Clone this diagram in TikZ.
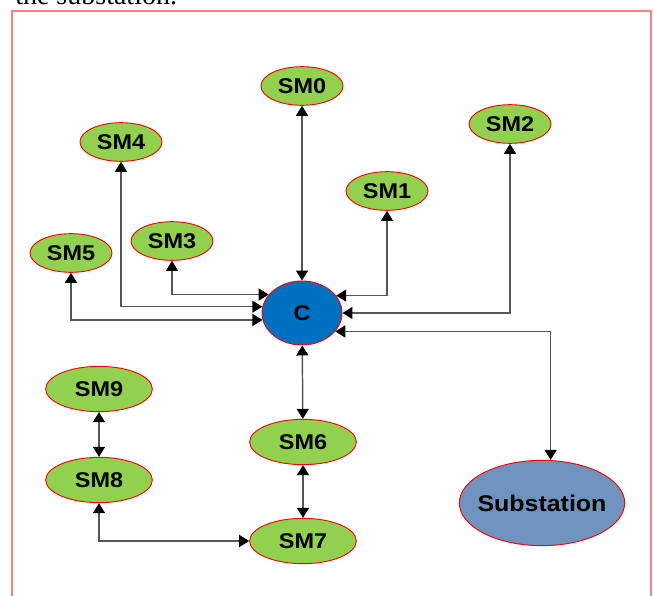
\documentclass[tikz,border=0pt]{standalone}
\usepackage{fontspec}
\setmainfont{Liberation Serif}
\newfontfamily\labelfont{Liberation Sans}[FakeStretch=1.1]
\usetikzlibrary{shapes.geometric,arrows.meta}
\definecolor{meterfill}{RGB}{146,208,80}
\definecolor{hubfill}{RGB}{0,112,192}
\definecolor{stationfill}{RGB}{112,146,190}
\definecolor{framered}{RGB}{255,128,128}
\definecolor{linkgray}{RGB}{85,85,85}

\begin{document}
\begin{tikzpicture}[x=0.75pt, y=-0.75pt,
        meter/.style={ellipse, draw=red, line width=0.7pt, fill=meterfill, inner sep=0pt, minimum width=61.5pt, minimum height=29pt, font=\labelfont\bfseries\fontsize{16}{18}\selectfont},
        bigmeter/.style={meter, minimum width=80pt, minimum height=34pt},
        hub/.style={meter, fill=hubfill, minimum width=60pt, minimum height=48pt},
        station/.style={meter, fill=stationfill, inner xsep=-5pt, minimum width=124pt, minimum height=64pt, font=\labelfont\bfseries\fontsize{17}{20}\selectfont},
        link/.style={draw=linkgray, line width=1.1pt, >={Triangle[length=7.5pt,width=9pt,color=black]}, <->}
    ]
        \path[use as bounding box] (0,0) rectangle (654,596);
        \clip (0,0) rectangle (654,596);

        % Frame
        \node[anchor=base west, inner sep=0pt, font=\fontsize{21}{24}\selectfont] (caption) at (15,4) {the substation.};
        \draw[framered, line width=2pt] (12,11) rectangle (651,620);

        % Meters
        \node[meter] (sm0) at (302,86) {SM0};
        \node[meter] (sm1) at (387,191) {SM1};
        \node[meter] (sm2) at (510,124) {SM2};
        \node[meter] (sm3) at (172,241) {SM3};
        \node[meter] (sm4) at (121,142) {SM4};
        \node[meter] (sm5) at (71,253) {SM5};
        \node[bigmeter] (sm6) at (303,442) {SM6};
        \node[bigmeter] (sm7) at (303,541) {SM7};
        \node[bigmeter] (sm8) at (99,480) {SM8};
        \node[bigmeter] (sm9) at (99,389) {SM9};

        % Concentrator and substation
        \node[hub] (c) at (302,313) {C};
        \node[station] (sub) at (542,503) {Substation};

        % Links
        \draw[link] (c) -- (sm0);
        \draw[link] (c.27) -| (sm1);
        \draw[link] (c.east) -| (sm2);
        \draw[link] (c.331) -| ([xshift=6.5pt]sub.north);
        \draw[link] (c.151) -| (sm3);
        \draw[link] (c.171) -| (sm4);
        \draw[link] (c.190) -| (sm5);
        \draw[link] (c) -- (sm6);
        \draw[link] (sm6) -- (sm7);
        \draw[link] (sm9) -- (sm8);
        \draw[link] (sm8) |- (sm7);
    \end{tikzpicture}
\end{document}
